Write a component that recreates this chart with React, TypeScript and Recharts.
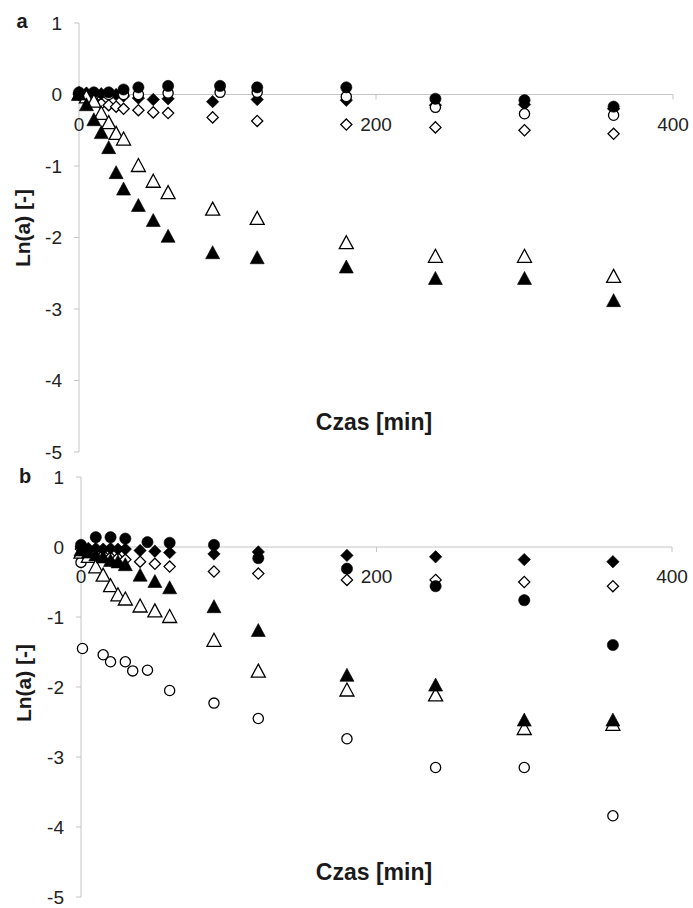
import React from 'react';
import {
  ScatterChart,
  Scatter,
  XAxis,
  YAxis,
  ReferenceLine,
  ReferenceDot
} from 'recharts';

// sampling times [min]
const timesMain = [0, 5, 10, 15, 20, 25, 30, 40, 50, 60, 90, 120, 180, 240, 300, 360];
const timesCircleA = [0, 10, 20, 30, 40, 60, 95, 120, 180, 240, 300, 360];
const timesFilledCircleB = [0, 10, 20, 30, 45, 60, 90, 120, 180, 240, 300, 360];
const timesOpenCircleB = [0, 1, 15, 20, 30, 35, 45, 60, 90, 120, 180, 240, 300, 360];

// panel a
const aFilledDiamond = [0.02, 0.02, 0.01, 0.01, 0, 0, -0.02, -0.05, -0.07, -0.06, -0.1, -0.07, -0.08, -0.15, -0.14, -0.2];
const aOpenDiamond = [0, -0.05, -0.09, -0.13, -0.15, -0.17, -0.2, -0.22, -0.25, -0.26, -0.32, -0.37, -0.42, -0.46, -0.5, -0.55];
const aOpenTriangle = [0, -0.04, -0.1, -0.27, -0.4, -0.55, -0.63, -1.0, -1.22, -1.38, -1.61, -1.74, -2.08, -2.27, -2.27, -2.55];
const aFilledTriangle = [0, -0.15, -0.36, -0.54, -0.75, -1.1, -1.33, -1.56, -1.77, -1.99, -2.22, -2.29, -2.42, -2.58, -2.58, -2.89];
const aOpenCircle = [0, 0, 0, 0, 0, 0.02, 0.03, 0.03, -0.03, -0.18, -0.27, -0.29];
const aFilledCircle = [0.03, 0.03, 0.03, 0.07, 0.1, 0.12, 0.12, 0.1, 0.1, -0.06, -0.08, -0.17];

// panel b
const bFilledDiamond = [0, -0.02, -0.02, -0.03, -0.02, -0.03, -0.03, -0.05, -0.06, -0.08, -0.1, -0.07, -0.12, -0.14, -0.18, -0.21];
const bOpenDiamond = [-0.03, -0.06, -0.1, -0.12, -0.15, -0.16, -0.18, -0.21, -0.24, -0.28, -0.35, -0.38, -0.47, -0.47, -0.5, -0.56];
const bOpenTriangle = [-0.08, -0.14, -0.29, -0.41, -0.56, -0.69, -0.75, -0.85, -0.92, -1.0, -1.34, -1.78, -2.05, -2.12, -2.6, -2.54];
const bFilledTriangle = [-0.05, -0.08, -0.12, -0.15, -0.2, -0.22, -0.26, -0.41, -0.5, -0.59, -0.86, -1.2, -1.84, -1.98, -2.48, -2.48];
const bOpenCircle = [-0.22, -1.45, -1.54, -1.64, -1.64, -1.77, -1.76, -2.05, -2.23, -2.45, -2.74, -3.15, -3.15, -3.84];
const bFilledCircle = [0.03, 0.14, 0.14, 0.12, 0.07, 0.06, 0.03, -0.16, -0.31, -0.56, -0.76, -1.4];

const yTicks = [-5, -4, -3, -2, -1, 0, 1];
const xTicks = [0, 200, 400];

const GRID = '#c4c4c4';
const FONT = '"Liberation Sans", Arial, sans-serif';

const pts = (xs: number[], ys: number[]) => xs.map((x, i) => ({ x, y: ys[i] }));

type Kind = 'diamond' | 'triangle' | 'circle';

const marker = (kind: Kind, filled: boolean) => (props: any) => {
  const { cx, cy } = props;
  if (cx == null || cy == null) return null;
  const fill = filled ? '#000' : '#fff';
  const sw = filled ? 0.6 : 1.3;
  if (kind === 'circle') {
    return <circle cx={cx} cy={cy} r={filled ? 5.6 : 5.1} fill={fill} stroke="#000" strokeWidth={sw} />;
  }
  if (kind === 'triangle') {
    const p = `${cx},${cy - 7.5} ${cx + 7},${cy + 5.5} ${cx - 7},${cy + 5.5}`;
    return <polygon points={p} fill={fill} stroke="#000" strokeWidth={sw} />;
  }
  const h = filled ? 6.2 : 5.6;
  const p = `${cx},${cy - h} ${cx + h},${cy} ${cx},${cy + h} ${cx - h},${cy}`;
  return <polygon points={p} fill={fill} stroke="#000" strokeWidth={sw} />;
};

// tick + label drawn at the y=0 line (axis crosses there)
const xTickShape = (value: number) => (props: any) => {
  const { cx, cy } = props;
  return (
    <g>
      <line x1={cx} y1={cy} x2={cx} y2={cy + 5} stroke={GRID} />
      <text x={cx} y={cy + 36} textAnchor="middle" fontSize={19} fontFamily={FONT} fill="#222">
        {value}
      </text>
    </g>
  );
};

interface Series {
  data: { x: number; y: number }[];
  kind: Kind;
  filled: boolean;
}

const Panel = ({ series, left, right, bottom }: { series: Series[]; left: number; right: number; bottom: number }) => (
  <ScatterChart width={693} height={470} margin={{ top: 23, right, bottom, left: 0 }}>
    <XAxis
      type="number"
      dataKey="x"
      domain={[0, 400]}
      ticks={xTicks}
      height={0}
      tick={false}
      tickLine={false}
      axisLine={{ stroke: GRID }}
    />
    <XAxis
      xAxisId="top"
      orientation="top"
      type="number"
      domain={[0, 400]}
      height={0}
      tick={false}
      tickLine={false}
      axisLine={{ stroke: GRID }}
    />
    <YAxis
      type="number"
      dataKey="y"
      domain={[-5, 1]}
      ticks={yTicks}
      interval={0}
      width={left}
      axisLine={{ stroke: GRID }}
      tickLine={{ stroke: GRID }}
      tickSize={5}
      tickMargin={12}
      tick={{ fontSize: 19, fontFamily: FONT, fill: '#222' }}
    />
    <YAxis
      yAxisId="right"
      orientation="right"
      type="number"
      domain={[-5, 1]}
      width={0}
      tick={false}
      tickLine={false}
      axisLine={{ stroke: GRID }}
    />
    <ReferenceLine y={0} stroke={GRID} />
    {xTicks.map((t) => (
      <ReferenceDot key={t} x={t} y={0} r={0} shape={xTickShape(t)} />
    ))}
    {series.map((s, i) => (
      <Scatter
        key={i}
        data={s.data}
        shape={marker(s.kind, s.filled)}
        isAnimationActive={false}
      />
    ))}
  </ScatterChart>
);

const seriesA: Series[] = [
  { data: pts(timesMain, aOpenDiamond), kind: 'diamond', filled: false },
  { data: pts(timesMain, aFilledDiamond), kind: 'diamond', filled: true },
  { data: pts(timesCircleA, aOpenCircle), kind: 'circle', filled: false },
  { data: pts(timesCircleA, aFilledCircle), kind: 'circle', filled: true },
  { data: pts(timesMain, aOpenTriangle), kind: 'triangle', filled: false },
  { data: pts(timesMain, aFilledTriangle), kind: 'triangle', filled: true }
];

const seriesB: Series[] = [
  { data: pts(timesMain, bOpenDiamond), kind: 'diamond', filled: false },
  { data: pts(timesMain, bFilledDiamond), kind: 'diamond', filled: true },
  { data: pts(timesOpenCircleB, bOpenCircle), kind: 'circle', filled: false },
  { data: pts(timesFilledCircleB, bFilledCircle), kind: 'circle', filled: true },
  { data: pts(timesMain, bOpenTriangle), kind: 'triangle', filled: false },
  { data: pts(timesMain, bFilledTriangle), kind: 'triangle', filled: true }
];

const boldText = { fontFamily: FONT, fontWeight: 700, fill: '#1a1a1a' } as const;

export default function App() {
  return (
    <div style={{ position: 'absolute', left: 0, top: 0, width: 693, height: 908, background: '#fff', overflow: 'hidden' }}>
      <div style={{ position: 'absolute', left: 0, top: 0 }}>
        <Panel series={seriesA} left={79} right={20} bottom={18} />
      </div>
      <div style={{ position: 'absolute', left: 0, top: 454 }}>
        <Panel series={seriesB} left={81} right={21} bottom={27} />
      </div>
      <svg width={693} height={908} style={{ position: 'absolute', left: 0, top: 0, pointerEvents: 'none' }}>
        <text x={22} y={28} textAnchor="middle" fontSize={20} {...boldText}>a</text>
        <text x={25} y={483} textAnchor="middle" fontSize={20} {...boldText}>b</text>
        <text transform="translate(30, 228) rotate(-90)" textAnchor="middle" fontSize={21} {...boldText}>Ln(a) [-]</text>
        <text transform="translate(31, 683) rotate(-90)" textAnchor="middle" fontSize={21} {...boldText}>Ln(a) [-]</text>
        <text x={374} y={430} textAnchor="middle" fontSize={23} {...boldText}>Czas [min]</text>
        <text x={374} y={880} textAnchor="middle" fontSize={23} {...boldText}>Czas [min]</text>
      </svg>
    </div>
  );
}
